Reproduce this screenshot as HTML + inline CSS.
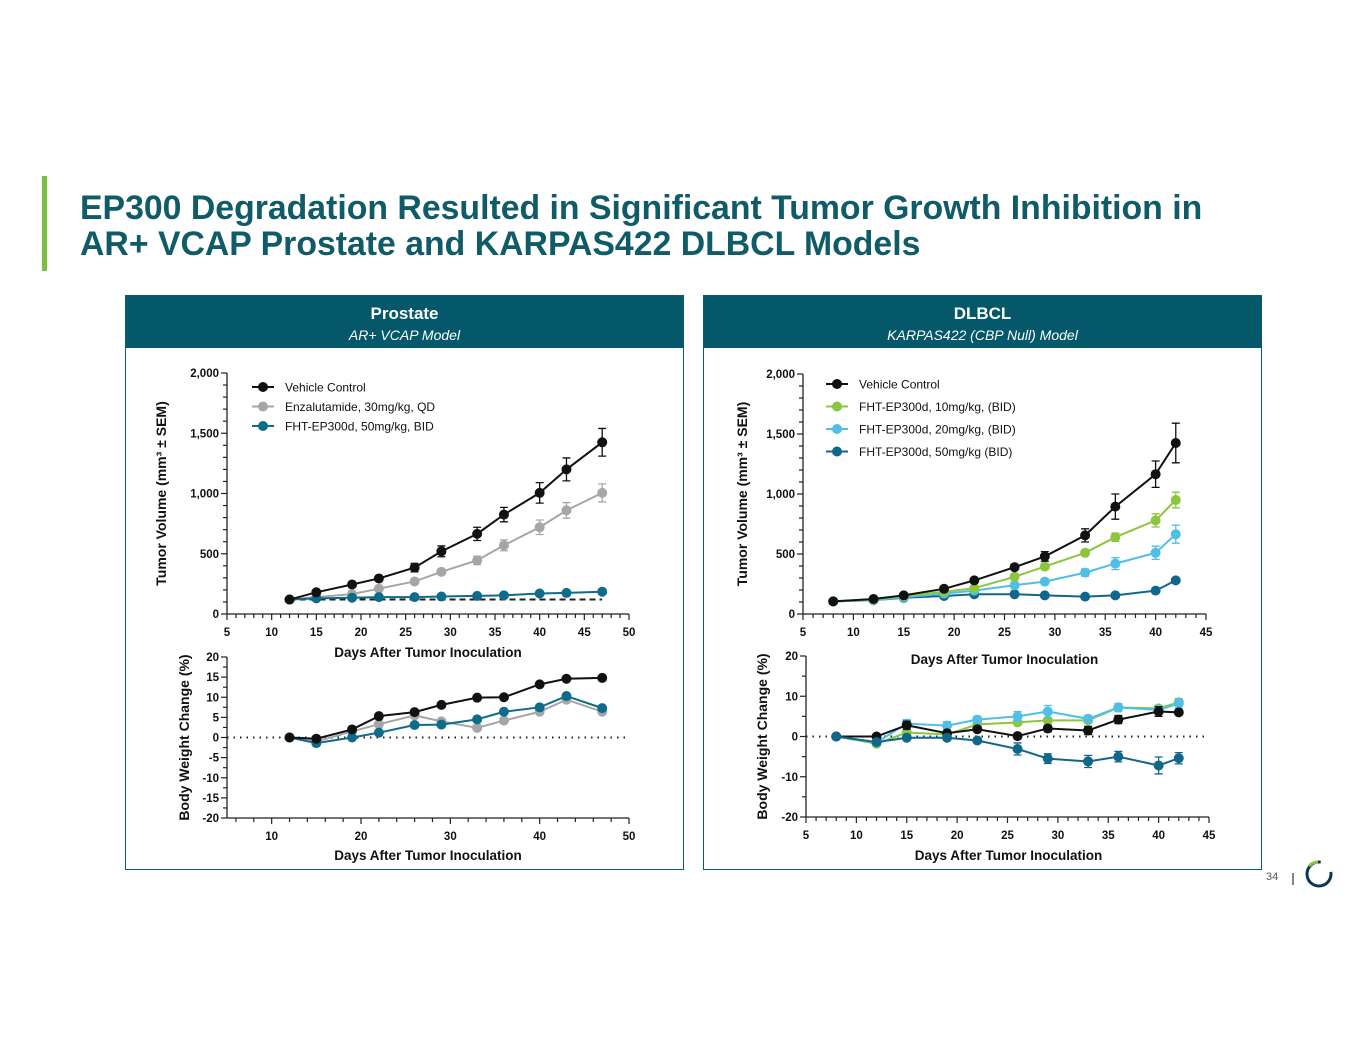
<!DOCTYPE html>
<html><head><meta charset="utf-8">
<style>
body{margin:0;background:#fff;width:1365px;height:1055px;overflow:hidden;font-family:"Liberation Sans",Arial,sans-serif;position:relative}
.title{position:absolute;left:80px;top:190px;font-size:33.8px;font-weight:bold;color:#0f5b68;line-height:36px;margin:0;white-space:nowrap}
.bar{position:absolute;left:42px;top:176px;width:5px;height:95px;background:#7ac142}
.panel{position:absolute;top:295px;width:559px;height:575px;border:1.5px solid #0d5a68;box-sizing:border-box}
.ph{height:52px;background:#04586a;color:#fff;text-align:center}
.ph b{display:block;font-size:17px;padding-top:8px}
.ph i{display:block;font-size:14px;margin-top:3px}
svg{position:absolute;left:0;top:0}
.pg{position:absolute;left:1266px;top:871px;font-size:11px;color:#555}
</style></head><body>
<div class="bar"></div>
<h1 class="title">EP300 Degradation Resulted in Significant Tumor Growth Inhibition in<br>AR+ VCAP Prostate and KARPAS422 DLBCL Models</h1>
<div class="panel" style="left:125px"><div class="ph"><b>Prostate</b><i>AR+ VCAP Model</i></div></div>
<div class="panel" style="left:703px"><div class="ph"><b>DLBCL</b><i>KARPAS422 (CBP Null) Model</i></div></div>
<div class="pg">34</div>
<svg width="1365" height="1055" id="s">
<line x1="1293" y1="873" x2="1293" y2="885" stroke="#333" stroke-width="1.2"/>
<circle cx="1319" cy="874" r="12" fill="none" stroke="#0d3550" stroke-width="3" stroke-dasharray="60 16" transform="rotate(-10 1319 874)"/>
<path d="M1309 866 A12 12 0 0 1 1318 862" fill="none" stroke="#8cc63f" stroke-width="3"/>
</svg>
<script>
// Prostate data
const pDays=[12,15,19,22,26,29,33,36,40,43,47];
const pVeh=[120,180,245,295,385,520,665,825,1005,1200,1425];
const pVehErr=[0,15,15,15,35,45,55,60,85,95,115];
const pEnz=[120,140,165,210,270,350,445,570,720,860,1005];
const pEnzErr=[0,10,10,15,20,20,35,45,60,65,75];
const pFht=[120,130,135,140,140,145,150,155,170,175,185];
const pFhtErr=[0,5,5,5,5,5,5,5,8,8,10];
const pBwVeh=[0,-0.3,2,5.3,6.3,8.1,9.9,10,13.2,14.6,14.8];
const pBwEnz=[0,-1,1.5,3.3,5.5,4,2.4,4.2,6.4,9.4,6.4];
const pBwFht=[0,-1.4,0,1.2,3.1,3.2,4.5,6.4,7.5,10.3,7.3];
// DLBCL data
const dDays=[8,12,15,19,22,26,29,33,36,40,42];
const dVeh=[105,125,155,210,280,390,480,655,895,1165,1425];
const dVehErr=[0,10,15,15,15,20,40,55,105,110,165];
const d10=[105,120,150,185,215,310,395,510,640,780,950];
const d10Err=[0,5,5,10,10,25,25,25,35,55,65];
const d20=[105,115,140,170,195,240,270,345,420,510,665];
const d20Err=[0,5,5,10,10,15,20,30,50,55,75];
const d50=[105,115,135,150,165,165,155,145,155,195,280];
const d50Err=[0,5,5,5,5,5,5,5,5,8,10];
const dBwVeh=[0,0,2.8,0.8,1.8,0.1,2,1.5,4.2,6.2,6];
const dBwVehErr=[0,0.5,1,0.5,0.5,0.5,0.8,1,1,1.2,0.5];
const dBw10=[0,-1.8,1,0.5,3,3.5,4,4,7.2,7,8.5];
const dBw20=[0,-1.5,3.2,2.7,4.2,5,6.2,4.4,7.2,6.6,8.2];
const dBw20Err=[0,0.5,1,1,0.8,1.2,1.5,0.8,1,1,1.2];
const dBw50=[0,-1.4,-0.3,-0.3,-1,-3.1,-5.5,-6.2,-5,-7.2,-5.4];
const dBw50Err=[0,0.5,0.5,0.5,0.5,1.5,1.2,1.5,1.3,2.1,1.4];
const volTicks=[0,500,1000,1500,2000];
const volTickLabels=["0","500","1,000","1,500","2,000"];

const NS="http://www.w3.org/2000/svg";
const S=document.getElementById('s');
function mk(t,a,p){const e=document.createElementNS(NS,t);for(const k in a)e.setAttribute(k,a[k]);(p||S).appendChild(e);return e;}
function txt(x,y,s,a){const e=mk('text',Object.assign({x:x,y:y,'font-family':'Liberation Sans, Arial, sans-serif'},a));e.textContent=s;return e;}

function chart(c){
  const g=mk('g',{});
  
  
  const X=v=>c.xl+(v-c.xmin)/(c.xmax-c.xmin)*(c.xr-c.xl);
  const Y=v=>c.yb-(v-c.ymin)/(c.ymax-c.ymin)*(c.yb-c.yt);
  const ya=mk('line',{x1:c.xl,y1:c.yt,x2:c.xl,y2:c.yb,stroke:'#222','stroke-width':1.3},g);
  
  
  const xa=mk('line',{x1:c.xl,y1:c.yb,x2:c.xr,y2:c.yb,stroke:'#222','stroke-width':1.3},g);
  
  
  const xs=c.xlab0-Math.floor((c.xlab0-c.xmin)/c.xminor+1e-9)*c.xminor;
  for(let v=xs;v<=c.xmax+1e-9;v+=c.xminor){const r=((v-c.xlab0)%c.xmajor+c.xmajor)%c.xmajor;const maj=r<1e-6||Math.abs(r-c.xmajor)<1e-6;
    mk('line',{x1:X(v),y1:c.yb,x2:X(v),y2:c.yb+(maj?6:4),stroke:'#222','stroke-width':1.2},g);
    if(maj&&v>=c.xlab0-1e-9){const t=txt(X(v),c.yb+22,String(Math.round(v)),{'font-size':11.5,'font-weight':'bold','text-anchor':'middle',fill:'#111'});g.appendChild(t);
      
      }}
  for(let v=c.ymin;v<=c.ymax+1e-9;v+=c.yminor){const maj=c.yticks.includes(v);
    mk('line',{x1:c.xl-(maj?6:4),y1:Y(v),x2:c.xl,y2:Y(v),stroke:'#222','stroke-width':1.2},g);}
  c.yticks.forEach((v,i)=>{const t=txt(c.xl-8,Y(v)+4,c.ylabels[i],{'font-size':11.5,'font-weight':'bold','text-anchor':'end',fill:'#111'});g.appendChild(t);
    
    });
  const yt=txt(0,0,c.ytitle,{'font-size':c.ytfs||14,'font-weight':'bold','text-anchor':'middle',fill:'#111',transform:`translate(${c.ytx},${(c.yt+c.yb)/2}) rotate(-90)`});g.appendChild(yt);
  
  
  c.xtitles.forEach(yy=>{const t=txt((c.xl+c.xr)/2+c.xtoff,yy,'Days After Tumor Inoculation',{'font-size':13.5,'font-weight':'bold','text-anchor':'middle',fill:'#111'});g.appendChild(t);
    
    });
  if(c.zero){const z=mk('line',{x1:c.xl,y1:Y(0),x2:c.xr,y2:Y(0),stroke:'#222','stroke-width':2,'stroke-dasharray':'1.5 5'},g);
    
    }
  if(c.dash){const d=mk('line',{x1:X(c.dash[0]),y1:Y(c.dash[2]),x2:X(c.dash[1]),y2:Y(c.dash[2]),stroke:'#222','stroke-width':2,'stroke-dasharray':'6 4'},g);
    
    }
  c.series.forEach(s=>{
    const sg=mk('g',{},g);
    
    
    if(s.err)c.days.forEach((d,i)=>{if(!s.err[i])return;const x=X(d),a=Y(s.vals[i]+s.err[i]),b=Y(s.vals[i]-s.err[i]);
      mk('path',{d:`M${x} ${a}V${b}M${x-4} ${a}H${x+4}M${x-4} ${b}H${x+4}`,stroke:s.col,'stroke-width':1.3,fill:'none'},sg);});
    mk('polyline',{points:c.days.map((d,i)=>X(d)+','+Y(s.vals[i])).join(' '),fill:'none',stroke:s.col,'stroke-width':2},sg);
    c.days.forEach((d,i)=>{const p=mk('circle',{cx:X(d),cy:Y(s.vals[i]),r:5,fill:s.col},sg);
      
      });
  });
  if(c.legend)c.legend.forEach((l,i)=>{const y=c.legY+i*c.legDy;const lg=mk('g',{},g);
    
    
    mk('line',{x1:c.legX,y1:y,x2:c.legX+22,y2:y,stroke:l.col,'stroke-width':2},lg);
    mk('circle',{cx:c.legX+11,cy:y,r:5,fill:l.col},lg);
    lg.appendChild(txt(c.legX+33,y+4.5,l.label,{'font-size':12,fill:'#111'}));});
}
const BLK='#111',GRY='#a6a6a6',TEAL='#0e6c8a',GRN='#8cc63f',LB='#4fbfe6',DB='#10678a';
chart({name:'prostate-tumor-volume-chart',xl:227,xr:629,yt:373,yb:614,xmin:5,xmax:50,xminor:1,xmajor:5,xlab0:5,ymin:0,ymax:2000,yminor:100,
  yticks:volTicks,ylabels:volTickLabels,ytitle:'Tumor Volume (mm³ ± SEM)',ytx:166,xtitles:[657],xtoff:0,days:pDays,dash:[12,47,120],
  series:[{name:'enzalutamide-series',vals:pEnz,err:pEnzErr,col:GRY},{name:'fht-ep300d-50-series',vals:pFht,err:pFhtErr,col:TEAL},{name:'vehicle-series',vals:pVeh,err:pVehErr,col:BLK}],
  legend:[{col:BLK,label:'Vehicle  Control'},{col:GRY,label:'Enzalutamide, 30mg/kg, QD'},{col:TEAL,label:'FHT-EP300d, 50mg/kg, BID'}],legX:252,legY:387,legDy:19.5});
chart({name:'prostate-body-weight-chart',xl:227,xr:629,yt:657,yb:818,xmin:5,xmax:50,xminor:2,xmajor:10,xlab0:10,ymin:-20,ymax:20,yminor:2.5,
  yticks:[-20,-15,-10,-5,0,5,10,15,20],ylabels:['-20','-15','-10','-5','0','5','10','15','20'],ytitle:'Body Weight Change (%)',ytx:189,xtitles:[860],xtoff:0,days:pDays,zero:true,
  series:[{name:'enzalutamide-bw-series',vals:pBwEnz,col:GRY},{name:'fht-ep300d-bw-series',vals:pBwFht,col:TEAL},{name:'vehicle-bw-series',vals:pBwVeh,col:BLK}]});
chart({name:'dlbcl-tumor-volume-chart',xl:803,xr:1206,yt:374,yb:614,xmin:5,xmax:45,xminor:1,xmajor:5,xlab0:5,ymin:0,ymax:2000,yminor:100,
  yticks:volTicks,ylabels:volTickLabels,ytitle:'Tumor Volume (mm³ ± SEM)',ytx:747,xtitles:[664],xtoff:0,days:dDays,
  series:[{name:'fht-50-series',vals:d50,err:d50Err,col:DB},{name:'fht-20-series',vals:d20,err:d20Err,col:LB},{name:'fht-10-series',vals:d10,err:d10Err,col:GRN},{name:'vehicle-series',vals:dVeh,err:dVehErr,col:BLK}],
  legend:[{col:BLK,label:'Vehicle Control'},{col:GRN,label:'FHT-EP300d, 10mg/kg, (BID)'},{col:LB,label:'FHT-EP300d, 20mg/kg, (BID)'},{col:DB,label:'FHT-EP300d, 50mg/kg (BID)'}],legX:826,legY:384,legDy:22.5});
chart({name:'dlbcl-body-weight-chart',xl:806,xr:1209,yt:656,yb:817,xmin:5,xmax:45,xminor:1,xmajor:5,xlab0:5,ymin:-20,ymax:20,yminor:5,
  yticks:[-20,-10,0,10,20],ylabels:['-20','-10','0','10','20'],ytitle:'Body Weight Change (%)',ytx:767,xtitles:[860],xtoff:1,days:dDays,zero:true,
  series:[{name:'fht-10-bw-series',vals:dBw10,col:GRN},{name:'fht-20-bw-series',vals:dBw20,err:dBw20Err,col:LB},{name:'vehicle-bw-series',vals:dBwVeh,err:dBwVehErr,col:BLK},{name:'fht-50-bw-series',vals:dBw50,err:dBw50Err,col:DB}]});
</script>
</body></html>
